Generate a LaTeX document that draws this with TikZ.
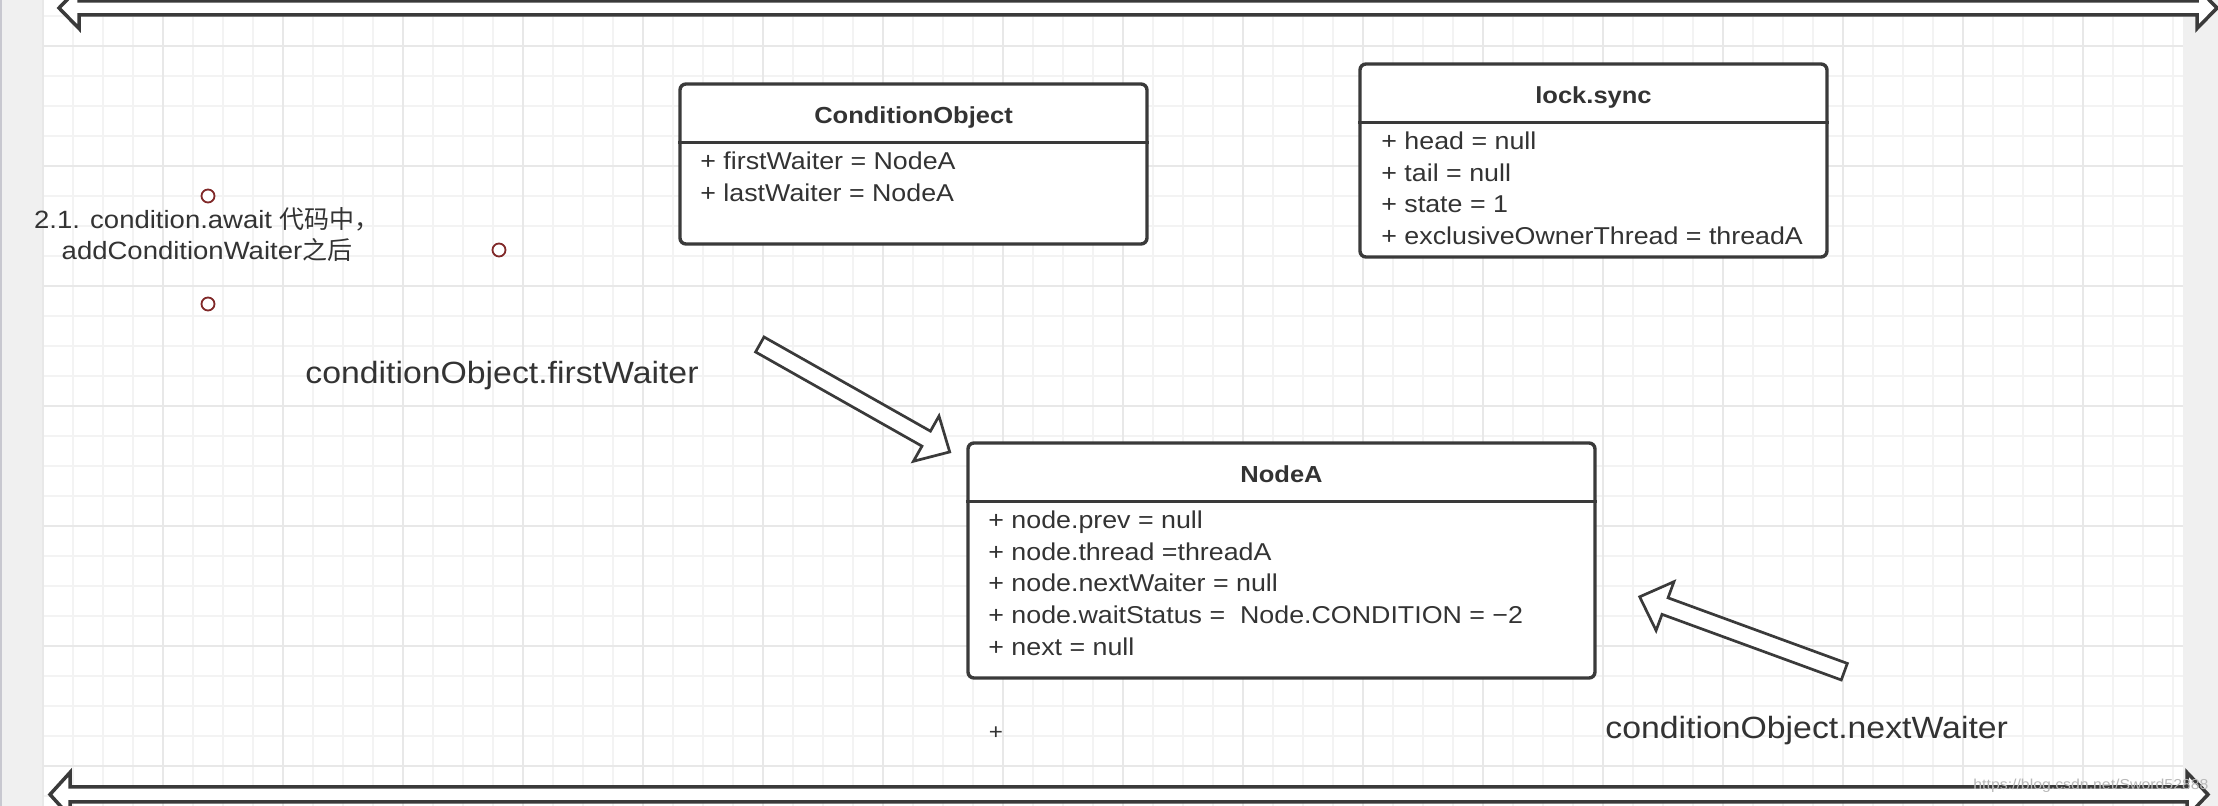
\documentclass[tikz,border=0pt]{standalone}
\usepackage{fontspec}
\setmainfont[FakeStretch=1.1]{Liberation Sans}
\newfontfamily\cjk{Noto Sans CJK SC}
\usetikzlibrary{calc}
\definecolor{txt}{HTML}{333333}
\definecolor{boxline}{HTML}{3A3A3A}
\definecolor{stripgray}{HTML}{F0F0F0}
\definecolor{edgegray}{HTML}{C8C8D0}
\definecolor{minorgrid}{HTML}{F3F3F3}
\definecolor{majorgrid}{HTML}{E8E8E8}
\definecolor{handlecol}{RGB}{128,40,40}
\tikzset{
  umlbox/.style={draw=boxline, line width=1.7pt, rounded corners=3pt, fill=white, inner sep=0pt},
  divider/.style={draw=boxline, line width=1.5pt},
  titletext/.style={text=txt, inner sep=0pt, font=\bfseries\fontsize{11.6pt}{14pt}\selectfont},
  attrtext/.style={text=txt, inner sep=0pt, anchor=base west, font=\fontsize{12.18pt}{15pt}\selectfont},
  biglabel/.style={text=txt, inner sep=0pt, anchor=base west, font=\fontsize{15.36pt}{18pt}\selectfont},
  notelabel/.style={text=txt, inner sep=0pt, anchor=base, font=\fontsize{12.5pt}{15pt}\selectfont},
  handle/.style={circle, draw=handlecol, line width=0.9pt, fill=white, minimum size=6.5pt, inner sep=0pt},
  blockarrow/.style={draw=boxline, line width=1.35pt, fill=white, line join=miter},
  dblarrow/.style={draw=boxline, line width=1.75pt, fill=white, line join=miter},
  minorline/.style={draw=minorgrid, line width=0.6pt},
  majorline/.style={draw=majorgrid, line width=1pt}
}
\begin{document}
\begin{tikzpicture}[x=0.5pt,y=-0.5pt]
\useasboundingbox (0,0) rectangle (2218,806);
% background
\fill[white] (0,0) rectangle (2218,806);
\fill[stripgray] (0,0) rectangle (43,806);
\fill[edgegray] (0,0) rectangle (2,806);
\fill[stripgray] (2183,0) rectangle (2218,806);
% grid
\foreach \gx in {73,103,...,2173} \draw[minorline] (\gx,0) -- (\gx,806);
\foreach \gy in {16,46,...,796} \draw[minorline] (43,\gy) -- (2183,\gy);
\foreach \gx in {43,163,...,2083} \draw[majorline] (\gx,0) -- (\gx,806);
\foreach \gy in {46,166,...,766} \draw[majorline] (43,\gy) -- (2183,\gy);

% top and bottom double arrows
\draw[dblarrow] (59,8) -- (79,-12.5) -- (79,1) -- (2197,1) -- (2197,-12.5) -- (2217,8)
  -- (2197,28.5) -- (2197,15) -- (79,15) -- (79,28.5) -- cycle;
\draw[dblarrow] (50,794.5) -- (70,772.5) -- (70,787) -- (2187,787) -- (2187,772.5) -- (2208,794.5)
  -- (2187,816.5) -- (2187,802) -- (70,802) -- (70,816.5) -- cycle;

% ConditionObject box
\node[umlbox, minimum width=233.5pt, minimum height=80pt] (co) at (913.5,164) {};
\draw[divider] (co.west |- 0,143) -- (co.east |- 0,143);
\node[titletext, anchor=base] (coT) at (913.5,123.5) {ConditionObject};
\node[attrtext] (coA1) at (700,169.5) {+ firstWaiter = NodeA};
\node[attrtext] (coA2) at (700,201.2) {+ lastWaiter = NodeA};

% lock.sync box
\node[umlbox, minimum width=233.5pt, minimum height=96.5pt] (ls) at (1593.5,160.5) {};
\draw[divider] (ls.west |- 0,123) -- (ls.east |- 0,123);
\node[titletext, anchor=base] (lsT) at (1593.5,103.5) {lock.sync};
\node[attrtext] (lsA1) at (1381,149.5) {+ head = null};
\node[attrtext] (lsA2) at (1381,181.2) {+ tail = null};
\node[attrtext] (lsA3) at (1381,212.9) {+ state = 1};
\node[attrtext] (lsA4) at (1381,244.6) {+ exclusiveOwnerThread = threadA};

% NodeA box
\node[umlbox, minimum width=313.5pt, minimum height=117.5pt] (na) at (1281.5,560.5) {};
\draw[divider] (na.west |- 0,502) -- (na.east |- 0,502);
\node[titletext, anchor=base] (naT) at (1281.5,482.5) {NodeA};
\node[attrtext] (naA1) at (988,528.5) {+ node.prev = null};
\node[attrtext] (naA2) at (988,560.2) {+ node.thread =threadA};
\node[attrtext] (naA3) at (988,591.9) {+ node.nextWaiter = null};
\node[attrtext] (naA4) at (988,623.6) {+ node.waitStatus = \ Node.CONDITION = −2};
\node[attrtext] (naA5) at (988,655.3) {+ next = null};

% note label with handles
\node[notelabel] (note1) at (207,228.3) {2.1. condition.await {\cjk 代码中，}};
\node[notelabel] (note2) at (207,260) {addConditionWaiter{\cjk 之后}};
\node[handle] (h1) at (208,196) {};
\node[handle] (h2) at (208,304) {};
\node[handle] (h3) at (499,250) {};

% labels
\node[biglabel] (fw) at (305,383.3) {conditionObject.firstWaiter};
\node[biglabel] (nw) at (1605,738.3) {conditionObject.nextWaiter};
\node[text=txt, inner sep=0pt, font=\fontsize{11pt}{13pt}\selectfont] (plus) at (996,733) {+};

% block arrows
\draw[blockarrow, shift={(759.8,344.5)}, rotate=-29.5]
  (0,-8.6) -- (191.2,-8.6) -- (191.2,-26) -- (218.2,0) -- (191.2,26) -- (191.2,8.6) -- (0,8.6) -- cycle;
\draw[blockarrow, shift={(1844.3,671.7)}, rotate=159.9]
  (0,-8.8) -- (190.9,-8.8) -- (190.9,-26) -- (217.9,0) -- (190.9,26) -- (190.9,8.8) -- (0,8.8) -- cycle;

% watermark
\node[anchor=base west, inner sep=0pt, text=black!28, font=\fontsize{7.2pt}{9pt}\selectfont] (wm) at (1973,790) {https://blog.csdn.net/Sword52888};
\end{tikzpicture}
\end{document}
